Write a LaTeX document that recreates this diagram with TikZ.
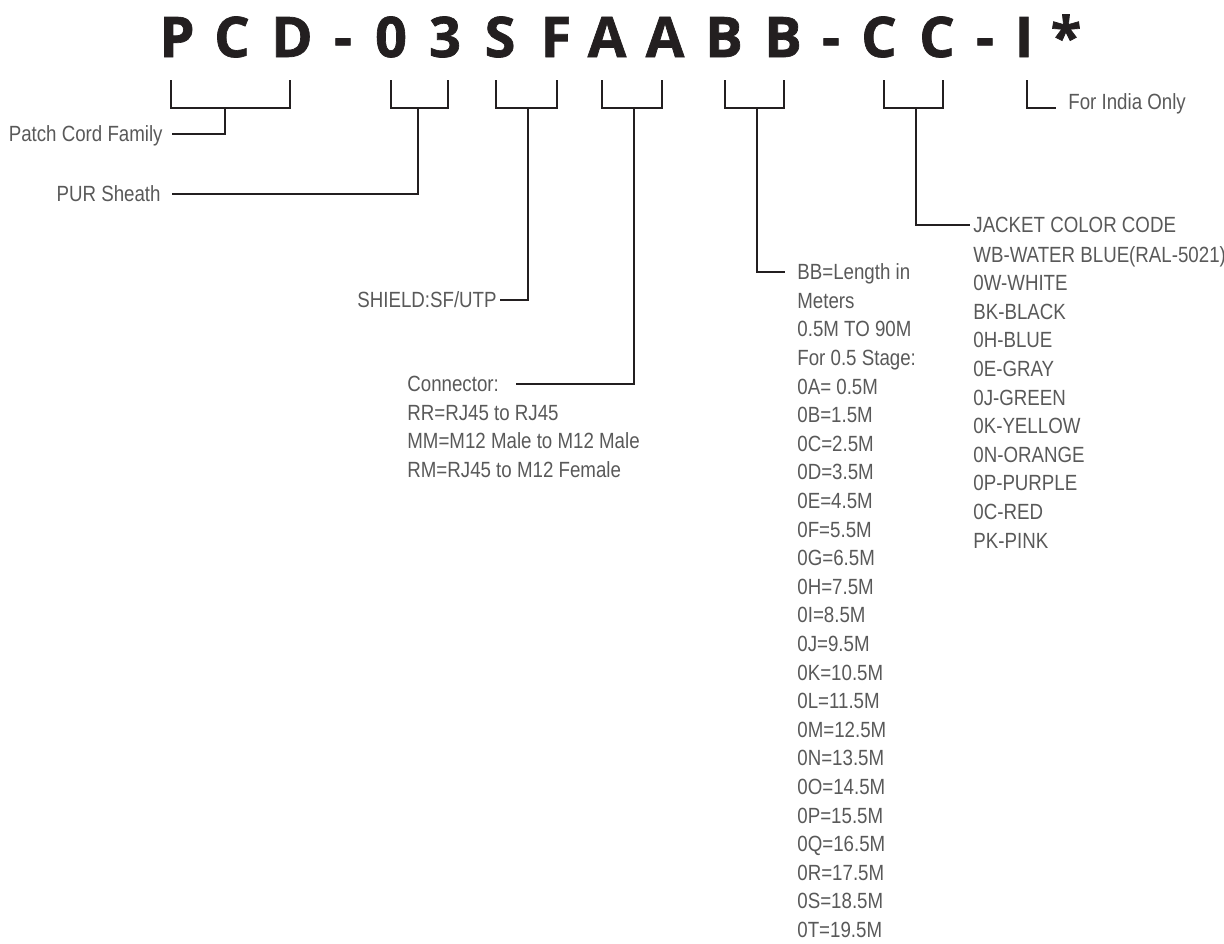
\documentclass[tikz,border=0pt]{standalone}
\usepackage{fontspec}
\usepackage{tikz}
\usetikzlibrary{positioning}
\newfontfamily\labelfont[FakeStretch=0.85]{Liberation Sans}
\newfontfamily\codefont[BoldFeatures={FakeBold=1.2}]{Open Sans}
\definecolor{labelgray}{HTML}{595959}
\definecolor{inkblack}{HTML}{231F20}
\tikzset{
    code/.style={anchor=base, inner sep=0, text=inkblack, font=\codefont\bfseries\fontsize{28}{28}\selectfont},
    lbl/.style={inner sep=0, text=labelgray, text height=7.9pt, text depth=0pt, font=\labelfont\fontsize{11}{14.3}\selectfont},
    lst/.style={inner sep=0, text=labelgray, align=left, anchor=north west, font=\labelfont\fontsize{11}{14.3}\selectfont},
    brk/.style={line width=1.3pt, draw=inkblack},
    link/.style={line width=1.4pt, draw=inkblack},
}
\begin{document}
\begin{tikzpicture}[x=0.5pt,y=-0.5pt]
        \useasboundingbox (0,0) rectangle (1224,943);
        % part number
        \foreach \c/\x [count=\i] in {P/177,C/232,D/292,-/343,0/391,3/445,S/500,F/556,A/607,A/665,B/724,B/783,-/831,C/879,C/937,-/985,I/1024,*/1066}
            \node[code] (t\i) at (\x,57) {\c};
        % brackets under the code
        \foreach \l/\m/\r/\n in {171/225/290/bPCD,391/418/448/b03,496/528/557/bSF,602/634/662/bAA,725/757/784/bBB,884/916/943/bCC}{
            \draw[brk] (\l,80) -- (\l,108) -- (\r,108) -- (\r,80);
            \coordinate (\n) at (\m,108);
        }
        \coordinate (bI) at (1027,80);
        % labels
        \node[lbl, anchor=east] (family) at (163,134) {Patch Cord Family};
        \node[lbl, anchor=east] (sheath) at (161,194) {PUR Sheath};
        \node[lbl, anchor=east] (shield) at (497,300) {SHIELD:SF/UTP};
        \node[lbl, anchor=west] (conn) at (407,384) {Connector:};
        \node[lst] (connlist) at ([yshift=-6.4pt]conn.base west) {RR=RJ45 to RJ45\\MM=M12 Male to M12 Male\\RM=RJ45 to M12 Female};
        \node[lbl, anchor=west] (length) at (797,272) {BB=Length in};
        \node[lst] (lengthlist) at ([yshift=-6.4pt]length.base west) {Meters\\0.5M TO 90M\\For 0.5 Stage:\\0A= 0.5M\\0B=1.5M\\0C=2.5M\\0D=3.5M\\0E=4.5M\\0F=5.5M\\0G=6.5M\\0H=7.5M\\0I=8.5M\\0J=9.5M\\0K=10.5M\\0L=11.5M\\0M=12.5M\\0N=13.5M\\0O=14.5M\\0P=15.5M\\0Q=16.5M\\0R=17.5M\\0S=18.5M\\0T=19.5M};
        \node[lbl, anchor=west] (jacket) at (973,225) {JACKET COLOR CODE};
        \node[lst] (jacketlist) at ([yshift=-6.4pt]jacket.base west) {WB-WATER BLUE(RAL-5021)\\0W-WHITE\\BK-BLACK\\0H-BLUE\\0E-GRAY\\0J-GREEN\\0K-YELLOW\\0N-ORANGE\\0P-PURPLE\\0C-RED\\PK-PINK};
        \node[lbl, anchor=west] (india) at (1068,102) {For India Only};
        % connectors
        \draw[link, shorten >=4.5pt] (bPCD) |- (family.east);
        \draw[link, shorten >=5.5pt] (b03) |- (sheath.east);
        \draw[link, shorten >=1.5pt] (bSF) |- (shield.east);
        \draw[link, shorten >=8.5pt] (bAA) |- (conn.east);
        \draw[link, shorten >=6pt] (bBB) |- (length.west);
        \draw[link, shorten >=1.5pt] (bCC) |- (jacket.west);
        \draw[brk, shorten >=6pt] (bI) |- ([yshift=-3pt]india.west);
    \end{tikzpicture}
\end{document}
